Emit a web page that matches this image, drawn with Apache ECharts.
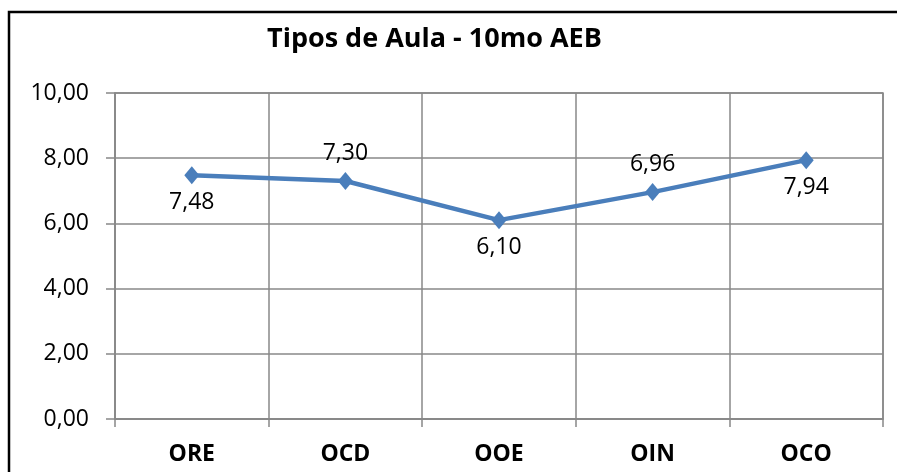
<!DOCTYPE html>
<html>
<head>
<meta charset="utf-8">
<script src="https://cdn.jsdelivr.net/npm/echarts@6/dist/echarts.min.js"></script>
<style>
html, body { margin: 0; padding: 0; background: #fff; }
#main { width: 897px; height: 472px; }
</style>
</head>
<body>
<div id="main"></div>
<script>
var categorias = ['ORE', 'OCD', 'OOE', 'OIN', 'OCO'];
var valores = [7.48, 7.30, 6.10, 6.96, 7.94];
var posEtiqueta = ['bottom', 'top', 'bottom', 'top', 'bottom'];
var fuente = 'Open Sans';

var myChart = echarts.init(document.getElementById('main'));

var datos = valores.map(function (v, i) {
	return {
		value: v,
		label: { position: posEtiqueta[i] }
	};
});

var option = {
	animation: false,
	title: {
		text: 'Tipos de Aula - 10mo AEB',
		left: 262,
		top: 21,
		textStyle: {
			fontFamily: fuente,
			fontSize: 27,
			fontWeight: 'bold',
			color: '#000'
		}
	},
	graphic: [{
		type: 'rect',
		shape: { x: 9, y: 12, width: 900, height: 480 },
		style: { fill: null, stroke: '#000', lineWidth: 2.5 }
	}],
	grid: {
		left: 115,
		right: 14,
		top: 93,
		bottom: 53,
		show: true,
		borderColor: '#888',
		borderWidth: 1.5
	},
	xAxis: {
		type: 'category',
		data: categorias,
		axisLine: { lineStyle: { color: '#888', width: 1.5 } },
		axisTick: { show: true, length: 8, lineStyle: { color: '#888', width: 1.5 } },
		splitLine: { show: true, lineStyle: { color: '#888', width: 1.5 } },
		axisLabel: {
			fontFamily: fuente,
			fontSize: 23,
			fontWeight: 'bold',
			color: '#000',
			margin: 24
		}
	},
	yAxis: {
		type: 'value',
		min: 0,
		max: 10,
		interval: 2,
		axisLine: { show: true, lineStyle: { color: '#888', width: 1.5 } },
		axisTick: { show: true, length: 9, lineStyle: { color: '#888', width: 1.5 } },
		splitLine: { show: true, lineStyle: { color: '#888', width: 1.5 } },
		axisLabel: {
			fontFamily: fuente,
			fontSize: 23,
			color: '#000',
			margin: 26,
			formatter: function (v) { return v.toFixed(2).replace('.', ','); }
		}
	},
	series: [{
		type: 'line',
		data: datos,
		symbol: 'diamond',
		symbolSize: [15, 18],
		lineStyle: { color: '#4a7ebb', width: 4.5 },
		itemStyle: { color: '#4a7ebb' },
		label: {
			show: true,
			fontFamily: fuente,
			fontSize: 23,
			color: '#000',
			distance: 7,
			formatter: function (p) { return p.value.toFixed(2).replace('.', ','); }
		}
	}]
};

myChart.setOption(option);
</script>
</body>
</html>
